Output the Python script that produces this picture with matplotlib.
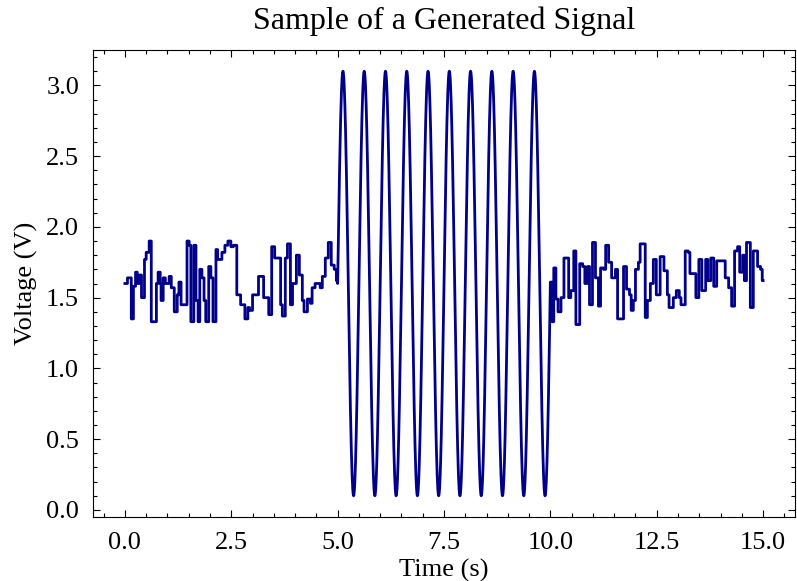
import numpy as np
import matplotlib
matplotlib.use("Agg")
import matplotlib.pyplot as plt
from matplotlib.ticker import MultipleLocator

# Noise before the burst: step start times (s) and held levels (V)
noise1_t = [0.00, 0.06, 0.15, 0.20, 0.25, 0.29, 0.34, 0.39, 0.46, 0.50,
            0.57, 0.62, 0.74, 0.78, 0.83, 0.85, 0.90, 0.95, 1.04, 1.09,
            1.16, 1.23, 1.27, 1.32, 1.46, 1.51, 1.55, 1.62, 1.67, 1.72,
            1.76, 1.81, 1.86, 1.90, 1.97, 2.02, 2.07, 2.14, 2.18, 2.28,
            2.35, 2.42, 2.49, 2.55, 2.63, 2.72, 2.82, 2.89, 2.93, 3.00,
            3.14, 3.26, 3.38, 3.45, 3.52, 3.66, 3.70, 3.77, 3.82, 3.89,
            3.94, 4.03, 4.10, 4.17, 4.21, 4.29, 4.36, 4.40, 4.47, 4.59,
            4.64, 4.71, 4.78, 4.85, 4.92, 4.97]
noise1_v = [1.60, 1.64, 1.35, 1.58, 1.68, 1.60, 1.66, 1.50, 1.77, 1.82,
            1.90, 1.33, 1.60, 1.68, 1.60, 1.48, 1.64, 1.60, 1.65, 1.57,
            1.40, 1.52, 1.61, 1.45, 1.90, 1.87, 1.33, 1.87, 1.48, 1.33,
            1.70, 1.64, 1.48, 1.33, 1.72, 1.64, 1.33, 1.84, 1.77, 1.82,
            1.87, 1.90, 1.86, 1.87, 1.52, 1.45, 1.35, 1.43, 1.41, 1.52,
            1.65, 1.50, 1.38, 1.86, 1.78, 1.45, 1.37, 1.78, 1.88, 1.45,
            1.60, 1.80, 1.66, 1.48, 1.40, 1.49, 1.46, 1.57, 1.60, 1.57,
            1.65, 1.78, 1.89, 1.73, 1.70, 1.62]

# Noise after the burst
noise2_t = [10.00, 10.04, 10.08, 10.13, 10.18, 10.25, 10.32, 10.43, 10.48, 10.55,
            10.60, 10.69, 10.76, 10.81, 10.87, 10.92, 10.99, 11.06, 11.13, 11.18,
            11.25, 11.30, 11.37, 11.44, 11.53, 11.58, 11.72, 11.79, 11.86, 11.90,
            11.95, 12.00, 12.07, 12.11, 12.23, 12.28, 12.35, 12.42, 12.49, 12.58,
            12.67, 12.75, 12.79, 12.89, 12.96, 13.03, 13.07, 13.17, 13.24, 13.28,
            13.42, 13.49, 13.56, 13.65, 13.70, 13.77, 13.84, 13.91, 14.00, 14.11,
            14.19, 14.26, 14.33, 14.40, 14.45, 14.52, 14.56, 14.61, 14.70, 14.77,
            14.87, 14.94, 14.98]
noise2_v = [1.61, 1.33, 1.71, 1.49, 1.40, 1.50, 1.78, 1.50, 1.55, 1.83,
            1.31, 1.74, 1.72, 1.60, 1.72, 1.45, 1.89, 1.64, 1.44, 1.71,
            1.70, 1.87, 1.75, 1.64, 1.70, 1.35, 1.72, 1.56, 1.52, 1.41,
            1.48, 1.70, 1.75, 1.88, 1.36, 1.48, 1.60, 1.77, 1.52, 1.79,
            1.69, 1.52, 1.43, 1.50, 1.55, 1.50, 1.45, 1.83, 1.82, 1.67,
            1.50, 1.77, 1.55, 1.77, 1.62, 1.78, 1.58, 1.76, 1.76, 1.64,
            1.57, 1.44, 1.83, 1.86, 1.68, 1.80, 1.62, 1.89, 1.43, 1.83,
            1.72, 1.70, 1.62]

# Sine burst between 5 s and 10 s
burst_start, burst_end = 5.0, 10.0
burst_freq = 2.0      # Hz
burst_amp = 1.5       # V
burst_offset = 1.6    # V

noise1_end = 5.0
noise2_end = 15.0

plt.rcParams.update({
    "font.family": "serif",
    "font.serif": ["Liberation Serif", "DejaVu Serif"],
    "mathtext.fontset": "dejavuserif",
    "xtick.direction": "in",
    "ytick.direction": "in",
    "xtick.top": True,
    "ytick.right": True,
    "xtick.minor.visible": True,
    "ytick.minor.visible": True,
    "xtick.major.size": 5,
    "ytick.major.size": 5,
    "xtick.minor.size": 2.8,
    "ytick.minor.size": 2.8,
    "xtick.major.width": 0.8,
    "ytick.major.width": 0.8,
    "xtick.minor.width": 0.8,
    "ytick.minor.width": 0.8,
    "axes.linewidth": 0.8,
})

fig = plt.figure(figsize=(7.97, 5.81), dpi=100)
ax = fig.add_axes([93 / 797, 64 / 581, (795 - 93) / 797, (531 - 64) / 581])

t1 = np.append(noise1_t, noise1_end)
v1 = np.append(noise1_v, noise1_v[-1])
tb = np.linspace(burst_start, burst_end, 1001)
vb = burst_offset + burst_amp * np.sin(2 * np.pi * burst_freq * (tb - burst_start))
t2 = np.append(noise2_t, noise2_end)
v2 = np.append(noise2_v, noise2_v[-1])

# build a single trace: steps for the noise, smooth burst in between
def steps(t, v):
    ts, vs = [], []
    for i in range(len(t) - 1):
        ts += [t[i], t[i + 1]]
        vs += [v[i], v[i]]
    return ts, vs

s1t, s1v = steps(t1, v1)
s2t, s2v = steps(t2, v2)
t_all = np.concatenate([s1t, tb, s2t])
v_all = np.concatenate([s1v, vb, s2v])

ax.plot(t_all, v_all, color="#00008B", linewidth=2.0)

ax.xaxis.set_major_locator(MultipleLocator(2.5))
ax.xaxis.set_minor_locator(MultipleLocator(0.5))
ax.yaxis.set_major_locator(MultipleLocator(0.5))
ax.yaxis.set_minor_locator(MultipleLocator(0.1))
ax.tick_params(labelsize=19)
ax.tick_params(axis="x", pad=10.5)
ax.tick_params(axis="y", pad=10)

ax.set_xlabel("Time (s)", fontsize=19, labelpad=4)
ax.set_ylabel("Voltage (V)", fontsize=19, labelpad=6)
ax.set_title("Sample of a Generated Signal", fontsize=23, pad=15)

fig.savefig("out.png", dpi=100)
